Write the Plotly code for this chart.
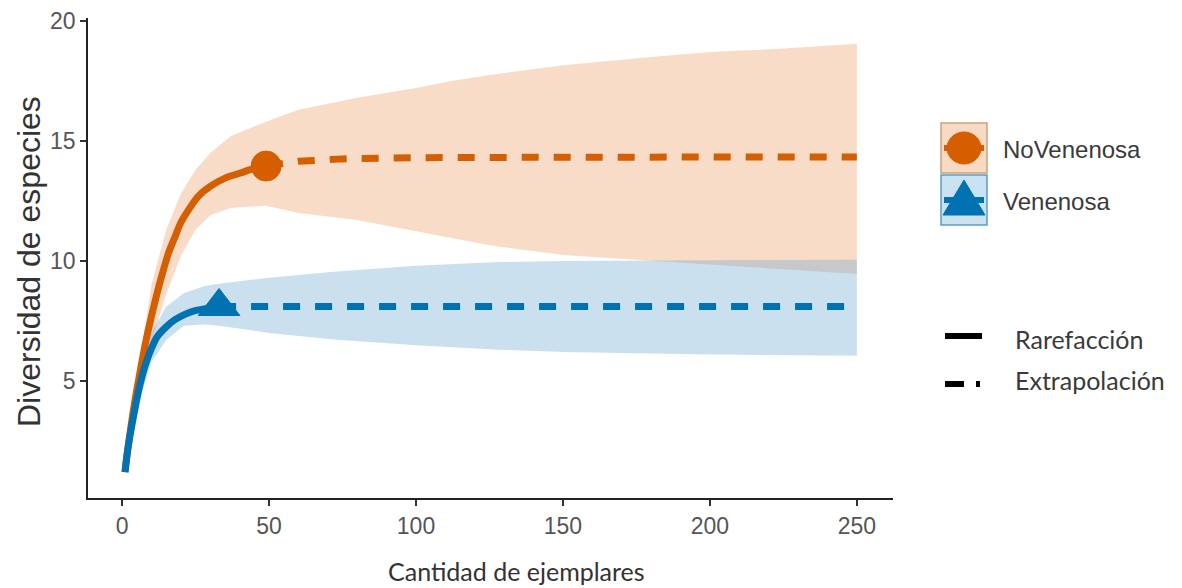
import plotly.graph_objects as go

# --- Rarefaction / extrapolation data (sample size vs. species richness) ---
# NoVenenosa
nv_rare_x = [1, 2, 4, 6, 8, 10, 12, 14, 16, 18, 20, 23, 26, 30, 35, 40, 45, 49]
nv_rare_y = [1.2, 2.2, 3.9, 5.3, 6.6, 7.7, 8.7, 9.6, 10.4, 11.0, 11.6, 12.2, 12.7, 13.1, 13.45, 13.65, 13.85, 13.95]
nv_ext_x = [49, 60, 75, 100, 150, 200, 250]
nv_ext_y = [13.95, 14.15, 14.25, 14.3, 14.32, 14.33, 14.33]
nv_ref = (49, 13.95)
nv_ci_x = [1, 5, 10, 15, 20, 25, 30, 37, 49, 60, 80, 100, 112, 125, 150, 180, 200, 225, 250]
nv_ci_hi = [1.3, 5.0, 9.0, 11.3, 12.8, 13.8, 14.5, 15.2, 15.8, 16.3, 16.8, 17.2, 17.5, 17.75, 18.15, 18.5, 18.7, 18.85, 19.05]
nv_ci_lo = [1.1, 4.0, 6.6, 8.6, 10.2, 11.3, 11.9, 12.2, 12.3, 12.0, 11.7, 11.25, 10.95, 10.65, 10.25, 10.02, 9.85, 9.65, 9.45]

# Venenosa
v_rare_x = [1, 2, 4, 6, 8, 10, 12, 15, 18, 21, 24, 28, 33]
v_rare_y = [1.2, 2.2, 3.6, 4.8, 5.7, 6.35, 6.85, 7.25, 7.55, 7.75, 7.9, 8.0, 8.1]
v_ext_x = [33, 60, 100, 150, 200, 250]
v_ext_y = [8.1, 8.1, 8.1, 8.1, 8.1, 8.1]
v_ref = (33, 8.1)
v_ci_x = [1, 5, 10, 15, 21, 28, 33, 38, 50, 72, 100, 128, 150, 200, 250]
v_ci_hi = [1.3, 4.6, 7.0, 8.1, 8.65, 8.95, 9.05, 9.13, 9.3, 9.55, 9.8, 9.95, 10.0, 10.03, 10.05]
v_ci_lo = [1.1, 3.8, 5.8, 6.7, 7.3, 7.35, 7.3, 7.2, 7.0, 6.72, 6.48, 6.3, 6.2, 6.1, 6.05]

x_ticks = [0, 50, 100, 150, 200, 250]
y_ticks = [5, 10, 15, 20]

ORANGE = "#D55E00"
BLUE = "#0072B2"
ORANGE_FILL = "rgba(234,140,70,0.30)"
BLUE_FILL = "rgba(90,160,205,0.32)"

fig = go.Figure()


def band(xs, lo, hi, color):
    return go.Scatter(
        x=list(xs) + list(xs)[::-1],
        y=list(hi) + list(lo)[::-1],
        fill="toself", fillcolor=color,
        line=dict(width=0), mode="lines",
        hoverinfo="skip", showlegend=False,
    )


fig.add_trace(band(nv_ci_x, nv_ci_lo, nv_ci_hi, ORANGE_FILL))
fig.add_trace(band(v_ci_x, v_ci_lo, v_ci_hi, BLUE_FILL))


def curves(rx, ry, ex, ey, ref, color, symbol, size):
    fig.add_trace(go.Scatter(x=ex, y=ey, mode="lines",
                             line=dict(color=color, width=7, dash="17px,15px"),
                             showlegend=False))
    fig.add_trace(go.Scatter(x=rx, y=ry, mode="lines",
                             line=dict(color=color, width=7, shape="spline"),
                             showlegend=False))
    fig.add_trace(go.Scatter(x=[ref[0]], y=[ref[1]], mode="markers",
                             marker=dict(color=color, symbol=symbol, size=size,
                                         line=dict(color=color, width=1)),
                             showlegend=False))


curves(nv_rare_x, nv_rare_y, nv_ext_x, nv_ext_y, nv_ref, ORANGE, "circle", 30)
curves(v_rare_x, v_rare_y, v_ext_x, v_ext_y, v_ref, BLUE, "triangle-up", 36)

# --- layout geometry (plot area in pixels) ---
W, H = 1182, 588
L, R, T, B = 88, 893, 18, 498


def px(xp):
    return (xp - L) / (R - L)


def py(yp):
    return (B - yp) / (B - T)


shapes = []
annotations = []

# Group legend: boxes with marker glyphs
legend_items = [
    ("NoVenenosa", ORANGE, "rgba(248,218,195,1)", "#C9A27E", 123, 173, "circle"),
    ("Venenosa", BLUE, "rgba(200,226,242,1)", "#5E9CC4", 175, 225, "triangle"),
]
bx0, bx1 = 941, 987
for label, col, fillc, border, ty, by, glyph in legend_items:
    shapes.append(dict(type="rect", xref="paper", yref="paper",
                       x0=px(bx0), x1=px(bx1), y0=py(by), y1=py(ty),
                       fillcolor=fillc, line=dict(color=border, width=1.5),
                       layer="above"))
    cy = (ty + by) / 2
    cx = (bx0 + bx1) / 2
    shapes.append(dict(type="line", xref="paper", yref="paper",
                       x0=px(bx0 + 3), x1=px(bx1 - 3), y0=py(cy), y1=py(cy),
                       line=dict(color=col, width=6), layer="above"))
    if glyph == "circle":
        r = 17
        shapes.append(dict(type="circle", xref="paper", yref="paper",
                           x0=px(cx - r), x1=px(cx + r), y0=py(cy + r - 1), y1=py(cy - r + 1),
                           fillcolor=col, line=dict(color=col, width=1), layer="above"))
    else:
        path = (f"M {px(cx - 21)} {py(cy + 15)} L {px(cx + 21)} {py(cy + 15)} "
                f"L {px(cx)} {py(cy - 20)} Z")
        shapes.append(dict(type="path", xref="paper", yref="paper", path=path,
                           fillcolor=col, line=dict(color=col, width=1), layer="above"))
    annotations.append(dict(text=label, xref="paper", yref="paper",
                            x=px(1001), y=py(cy + 1), xanchor="left", yanchor="middle",
                            showarrow=False,
                            font=dict(family="Liberation Sans", size=24, color="#3a3a3a")))

# Line-type legend
shapes.append(dict(type="line", xref="paper", yref="paper",
                   x0=px(945), x1=px(982), y0=py(336), y1=py(336),
                   line=dict(color="black", width=6)))
shapes.append(dict(type="line", xref="paper", yref="paper",
                   x0=px(945), x1=px(964), y0=py(384), y1=py(384),
                   line=dict(color="black", width=6)))
shapes.append(dict(type="line", xref="paper", yref="paper",
                   x0=px(976), x1=px(980), y0=py(384), y1=py(384),
                   line=dict(color="black", width=6)))
for label, yy in [("Rarefacción", 339), ("Extrapolación", 380)]:
    annotations.append(dict(text=label, xref="paper", yref="paper",
                            x=px(1013), y=py(yy), xanchor="left", yanchor="middle",
                            showarrow=False,
                            font=dict(family="Lato", size=25, color="#3a3a3a")))

# Axis titles
annotations.append(dict(text="Diversidad de especies", xref="paper", yref="paper",
                        x=px(29), y=py(262), textangle=-90, showarrow=False,
                        xanchor="center", yanchor="middle",
                        font=dict(family="Liberation Sans", size=32, color="#333333")))
annotations.append(dict(text="Cantidad de ejemplares", xref="paper", yref="paper",
                        x=px(516), y=py(571), showarrow=False,
                        xanchor="center", yanchor="middle",
                        font=dict(family="Lato", size=25, color="#333333")))

fig.update_layout(
    width=W, height=H,
    margin=dict(l=L, r=W - R, t=T, b=H - B, autoexpand=False),
    paper_bgcolor="white", plot_bgcolor="white",
    showlegend=False,
    shapes=shapes, annotations=annotations,
    xaxis=dict(range=[-11.6, 262.3], tickvals=x_ticks, ticks="outside", ticklen=6,
               tickcolor="#333333", tickwidth=1.5,
               showline=True, linecolor="#222222", linewidth=1.8,
               showgrid=False, zeroline=False,
               tickfont=dict(family="Liberation Sans", size=23, color="#555555")),
    yaxis=dict(range=[0.12, 20.12], tickvals=y_ticks, ticks="outside", ticklen=6,
               tickcolor="#333333", tickwidth=1.5,
               showline=True, linecolor="#222222", linewidth=1.8,
               showgrid=False, zeroline=False,
               tickfont=dict(family="Liberation Sans", size=23, color="#555555")),
)

fig.write_html("out.html")
